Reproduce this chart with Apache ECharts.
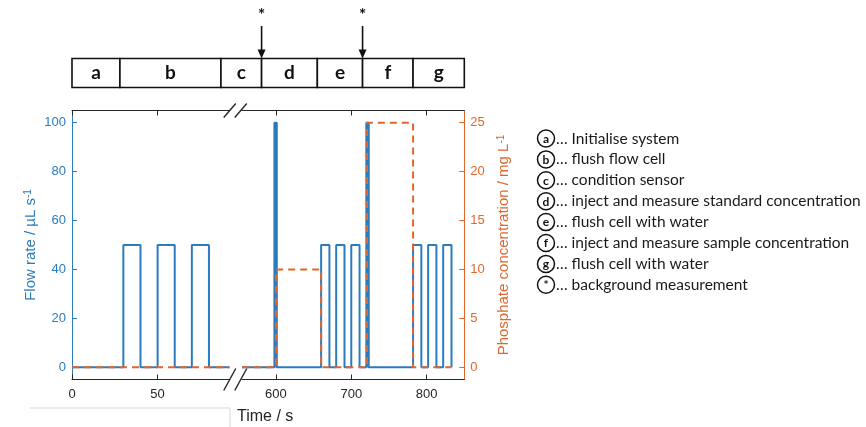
<!DOCTYPE html>
<html>
<head>
<meta charset="utf-8">
<script src="https://cdn.jsdelivr.net/npm/echarts@6/dist/echarts.min.js"></script>
<style>
  html, body { margin: 0; padding: 0; background: #fff; }
  #chart { width: 866px; height: 427px; }
</style>
</head>
<body>
<div id="chart"></div>
<script>
// left panel (0-92 s) and right panel (555-850 s) of the broken time axis
var leftTime = [0, 30, 40, 50, 60, 70, 80, 92]
var leftFlow = [0, 50, 0, 50, 0, 50, 0, 0]
var leftConcTime = [0, 92]
var leftConc = [0, 0]
var rightTime = [555, 598, 601, 660, 671, 680, 691, 700, 711, 720, 723, 782, 793, 802, 813, 822, 833]
var rightFlow = [0, 100, 0, 50, 0, 50, 0, 50, 0, 100, 0, 50, 0, 50, 0, 50, 0]
var rightConcTime = [555, 600, 660, 721, 782, 833]
var rightConc = [0, 10, 0, 25, 0, 0]
// short full-rate flushes, drawn solid
var spikeTimes = [[598, 601], [720, 723]]
var spikeFlow = [100, 0]

var flowTicks = [0, 20, 40, 60, 80, 100]
var concTicks = [0, 5, 10, 15, 20, 25]
var timeTicksLeft = [0, 50]
var timeTicksRight = [600, 700, 800]

// phase bar: [panel, time] of each box edge
var phaseLabels = ['a', 'b', 'c', 'd', 'e', 'f', 'g']
var phaseEdges = [[0, 0], [0, 28], [0, 87], [1, 581], [1, 655], [1, 715], [1, 782], [1, 850]]
var bgMarks = [[1, 581], [1, 715]]

var legendKeys = ['a', 'b', 'c', 'd', 'e', 'f', 'g', '*']
var legendTexts = [
  '… Initialise system',
  '… flush flow cell',
  '… condition sensor',
  '… inject and measure standard concentration',
  '… flush cell with water',
  '… inject and measure sample concentration',
  '… flush cell with water',
  '… background measurement'
]

var BLUE = '#2b7bbf'
var ORANGE = '#e2662c'
var DARK = '#262626'
var SANS = 'Liberation Sans'

function pairs(xs, ys) {
  return xs.map(function (x, i) { return [x, ys[i]] })
}

function timeAxis(grid, min, max, ticks, pos) {
  return {
    type: 'value',
    gridIndex: grid,
    min: min,
    max: max,
    position: pos,
    axisLine: { onZero: false, lineStyle: { color: DARK, width: 1 } },
    axisTick: { inside: true, length: 5, customValues: ticks, lineStyle: { color: DARK } },
    axisLabel: { show: pos === 'bottom', customValues: ticks, color: DARK, fontSize: 13, margin: 8, fontFamily: SANS },
    splitLine: { show: false }
  }
}

function valAxis(grid, min, max, ticks, pos, color, show, name) {
  return {
    type: 'value',
    gridIndex: grid,
    min: min,
    max: max,
    position: pos,
    show: show,
    name: name,
    nameLocation: 'middle',
    nameRotate: 90,
    nameGap: pos === 'left' ? 34 : 32,
    nameTextStyle: {
      color: color,
      fontSize: 15,
      fontFamily: SANS,
      rich: { sup: { fontSize: 10, color: color, fontFamily: SANS, verticalAlign: 'top', lineHeight: 10 } }
    },
    axisLine: { show: true, onZero: false, lineStyle: { color: color, width: 1 } },
    axisTick: { show: true, inside: true, length: 5, customValues: ticks, lineStyle: { color: color } },
    axisLabel: { customValues: ticks, color: color, fontSize: 13, margin: 6, fontFamily: SANS },
    splitLine: { show: false }
  }
}

function stepLine(x, y, data, color, dashed, width) {
  return {
    type: 'line',
    xAxisIndex: x,
    yAxisIndex: y,
    step: 'end',
    symbol: 'none',
    data: data,
    lineStyle: { color: color, width: width, type: dashed ? [7, 5] : 'solid' },
    animation: false
  }
}

var series = [
  stepLine(0, 0, pairs(leftTime, leftFlow), BLUE, false, 2),
  stepLine(1, 2, pairs(rightTime, rightFlow), BLUE, false, 2)
]
spikeTimes.forEach(function (t) {
  var s = stepLine(1, 2, pairs(t, spikeFlow), BLUE, false, 1.5)
  s.areaStyle = { color: BLUE, opacity: 1, origin: 0 }
  series.push(s)
})
series.push(stepLine(0, 1, pairs(leftConcTime, leftConc), ORANGE, true, 2))
series.push(stepLine(1, 3, pairs(rightConcTime, rightConc), ORANGE, true, 2))

var chart = echarts.init(document.getElementById('chart'))
chart.setOption({
  animation: false,
  title: {
    text: 'Time / s',
    left: 237,
    top: 409,
    padding: 0,
    textStyle: { fontSize: 16, fontWeight: 'normal', color: DARK, fontFamily: SANS }
  },
  grid: [
    { left: 72, top: 110.5, width: 157.5, height: 269 },
    { left: 242, top: 110.5, width: 222.3, height: 269 }
  ],
  xAxis: [
    timeAxis(0, 0, 92, timeTicksLeft, 'bottom'),
    timeAxis(1, 555, 850, timeTicksRight, 'bottom'),
    timeAxis(0, 0, 92, timeTicksLeft, 'top'),
    timeAxis(1, 555, 850, timeTicksRight, 'top')
  ],
  yAxis: [
    valAxis(0, -5, 105, flowTicks, 'left', BLUE, true, 'Flow rate / µL s{sup|-1}'),
    valAxis(0, -1.25, 26.25, concTicks, 'right', ORANGE, false, ''),
    valAxis(1, -5, 105, flowTicks, 'left', BLUE, false, ''),
    valAxis(1, -1.25, 26.25, concTicks, 'right', ORANGE, true, 'Phosphate concentration / mg L{sup|-1}')
  ],
  series: series
})

// phase bar, break marks and legend placed from the axes
function px(edge) {
  return chart.convertToPixel({ xAxisIndex: edge[0] }, edge[1])
}

var g = []
var boxTop = 58.5
var boxH = 29
for (var i = 0; i < phaseLabels.length; i++) {
  var x0 = px(phaseEdges[i])
  var x1 = px(phaseEdges[i + 1])
  g.push({
    type: 'rect',
    shape: { x: x0, y: boxTop, width: x1 - x0, height: boxH },
    style: { fill: '#fff', stroke: '#111', lineWidth: 1.6 }
  })
  g.push({
    type: 'text',
    x: (x0 + x1) / 2,
    y: boxTop + boxH / 2,
    style: { text: phaseLabels[i], align: 'center', verticalAlign: 'middle', font: 'bold 19px Lato', fill: '#111' }
  })
}
bgMarks.forEach(function (m) {
  var x = px(m)
  g.push({ type: 'line', shape: { x1: x, y1: 26, x2: x, y2: boxTop - 6 }, style: { stroke: '#111', lineWidth: 1.6 } })
  g.push({ type: 'polygon', shape: { points: [[x - 4, boxTop - 9], [x + 4, boxTop - 9], [x, boxTop]] }, style: { fill: '#111' } })
  g.push({
    type: 'text', x: x, y: 16,
    style: { text: '*', align: 'center', verticalAlign: 'middle', font: 'bold 17px Lato', fill: '#111' }
  })
})

// break marks
var gapX = (px([0, 92]) + px([1, 555])) / 2
var slashes = [[110.5, 14], [379.5, 22]]
slashes.forEach(function (s) {
  var yc = s[0]
  var h = s[1]
  ;[-6, 5].forEach(function (dx) {
    g.push({
      type: 'line',
      shape: { x1: gapX + dx - 6, y1: yc + h / 2, x2: gapX + dx + 6, y2: yc - h / 2 },
      style: { stroke: DARK, lineWidth: 1.4 }
    })
  })
})

// faint frame line under the plot
g.push({ type: 'line', shape: { x1: 30, y1: 408, x2: 230, y2: 408 }, style: { stroke: '#d6d6d6', lineWidth: 1 } })
g.push({ type: 'line', shape: { x1: 230, y1: 408, x2: 230, y2: 427 }, style: { stroke: '#d6d6d6', lineWidth: 1 } })

// legend of phases
for (var k = 0; k < legendKeys.length; k++) {
  var cy = 138.5 + k * 20.9
  g.push({ type: 'circle', shape: { cx: 546, cy: cy, r: 8.5 }, style: { fill: '#fff', stroke: '#111', lineWidth: 1.5 } })
  g.push({
    type: 'text', x: 546, y: cy + 0.5,
    style: { text: legendKeys[k], align: 'center', verticalAlign: 'middle', font: 'bold 12px Lato', fill: '#111' }
  })
  g.push({
    type: 'text', x: 556, y: cy,
    style: { text: legendTexts[k], align: 'left', verticalAlign: 'middle', font: '15.5px Lato', fill: '#1a1a1a' }
  })
}

chart.setOption({ graphic: g })
</script>
</body>
</html>
